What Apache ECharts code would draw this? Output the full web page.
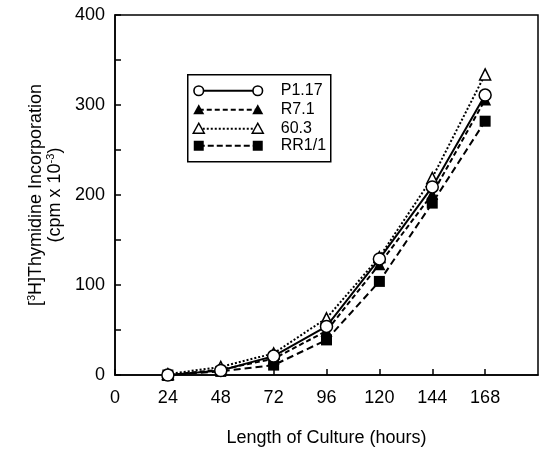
<!DOCTYPE html>
<html>
<head>
<meta charset="utf-8">
<script src="https://cdn.jsdelivr.net/npm/echarts@6/dist/echarts.min.js"></script>
<style>
	html, body { margin: 0; padding: 0; background: #fff; }
	#chart { width: 542px; height: 452px; }
</style>
</head>
<body>
<div id="chart"></div>
<script>
// hours of culture
var hours = [24, 48, 72, 96, 120, 144, 168];
// [3H]thymidine incorporation, cpm x 10^-3
var p117 = [0, 5, 21, 54, 129, 209, 311];
var r71 = [0, 6, 18, 49, 123, 201, 306];
var s603 = [1, 9, 24, 63, 131, 219, 334];
var rr11 = [0, 4, 11, 39, 104, 191, 282];
var names = ['P1.17', 'R7.1', '60.3', 'RR1/1'];

function pairs(ys) {
	return hours.map(function (h, i) { return [h, ys[i]]; });
}

function legendRow(y, sym, dash, label) {
	// one line of the boxed key: marker --- marker  label
	var kids = [{
		type: 'line',
		shape: { x1: 11, y1: y, x2: 70, y2: y },
		style: { stroke: '#000', lineWidth: 2, lineDash: dash }
	}];
	[11, 70].forEach(function (cx) {
		if (sym === 'circle') {
			kids.push({ type: 'circle', shape: { cx: cx, cy: y, r: 4.8 }, style: { fill: '#fff', stroke: '#000', lineWidth: 1.6 } });
		} else if (sym === 'tri' || sym === 'otri') {
			kids.push({
				type: 'polygon',
				shape: { points: [[cx, y - 5.5], [cx - 5.5, y + 4.5], [cx + 5.5, y + 4.5]] },
				style: sym === 'tri' ? { fill: '#000' } : { fill: '#fff', stroke: '#000', lineWidth: 1.5 }
			});
		} else {
			kids.push({ type: 'rect', shape: { x: cx - 5, y: y - 5, width: 10, height: 10 }, style: { fill: '#000' } });
		}
	});
	kids.push({
		type: 'text',
		x: 93, y: y,
		style: { text: label, fill: '#000', font: '16px "Liberation Sans", Arial, sans-serif', verticalAlign: 'middle' }
	});
	return kids;
}

var myChart = echarts.init(document.getElementById('chart'));
var font = '"Liberation Sans", Arial, sans-serif';
var option = {
	animation: false,
	backgroundColor: '#fff',
	grid: {
		show: true,
		left: 115, right: 4, top: 15, bottom: 77,
		borderColor: '#000',
		borderWidth: 1.5
	},
	xAxis: {
		type: 'value',
		min: 0, max: 192, interval: 24,
		name: 'Length of Culture (hours)',
		nameLocation: 'middle',
		nameGap: 54,
		nameTextStyle: { fontSize: 18, color: '#000', fontFamily: font },
		axisLine: { lineStyle: { color: '#000', width: 1.5 } },
		axisTick: { inside: true, length: 6, lineStyle: { color: '#000', width: 1.5 } },
		axisLabel: {
			fontSize: 18, color: '#000', fontFamily: font, margin: 14,
			showMaxLabel: false,
			formatter: function (v) { return v === 192 ? '' : v; }
		},
		splitLine: { show: false }
	},
	yAxis: {
		type: 'value',
		min: 0, max: 400, interval: 50,
		name: '{n|[}{s|3}{n|H]Thymidine Incorporation}\n{n|(cpm x 10}{s|-3}{n|)}',
		nameLocation: 'middle',
		nameRotate: 90,
		nameGap: 49,
		nameTextStyle: {
			color: '#000', fontFamily: font,
			rich: {
				n: { fontSize: 18, lineHeight: 19, fontFamily: font, color: '#000' },
				s: { fontSize: 11, lineHeight: 19, fontFamily: font, color: '#000', verticalAlign: 'top' }
			}
		},
		axisLine: { lineStyle: { color: '#000', width: 1.5 } },
		axisTick: { inside: true, length: 6, lineStyle: { color: '#000', width: 1.5 } },
		axisLabel: {
			fontSize: 18, color: '#000', fontFamily: font, margin: 10,
			formatter: function (v) { return v % 100 === 0 ? v : ''; }
		},
		splitLine: { show: false }
	},
	series: [{
		name: names[3],
		type: 'line',
		data: pairs(rr11),
		symbol: 'rect', symbolSize: 11,
		lineStyle: { color: '#000', width: 2, type: [7, 4] },
		itemStyle: { color: '#000' }
	}, {
		name: names[1],
		type: 'line',
		data: pairs(r71),
		symbol: 'triangle', symbolSize: 12,
		lineStyle: { color: '#000', width: 2, type: [5, 3] },
		itemStyle: { color: '#000' }
	}, {
		name: names[2],
		type: 'line',
		data: pairs(s603),
		symbol: 'triangle', symbolSize: 11,
		lineStyle: { color: '#000', width: 2, type: [2, 2] },
		itemStyle: { color: '#fff', borderColor: '#000', borderWidth: 1.5 }
	}, {
		name: names[0],
		type: 'line',
		data: pairs(p117),
		symbol: 'circle', symbolSize: 12,
		lineStyle: { color: '#000', width: 2 },
		itemStyle: { color: '#fff', borderColor: '#000', borderWidth: 1.5 }
	}],
	graphic: [{
		type: 'group',
		left: 187, top: 74,
		children: [{
			type: 'rect',
			shape: { x: 0, y: 0, width: 143, height: 87 },
			style: { fill: '#fff', stroke: '#000', lineWidth: 1.5 }
		}]
		.concat(legendRow(16, 'circle', null, names[0]))
		.concat(legendRow(35, 'tri', [5, 3], names[1]))
		.concat(legendRow(54, 'otri', [2, 2], names[2]))
		.concat(legendRow(71, 'rect', [6, 3], names[3]))
	}]
};
myChart.setOption(option);
</script>
</body>
</html>
